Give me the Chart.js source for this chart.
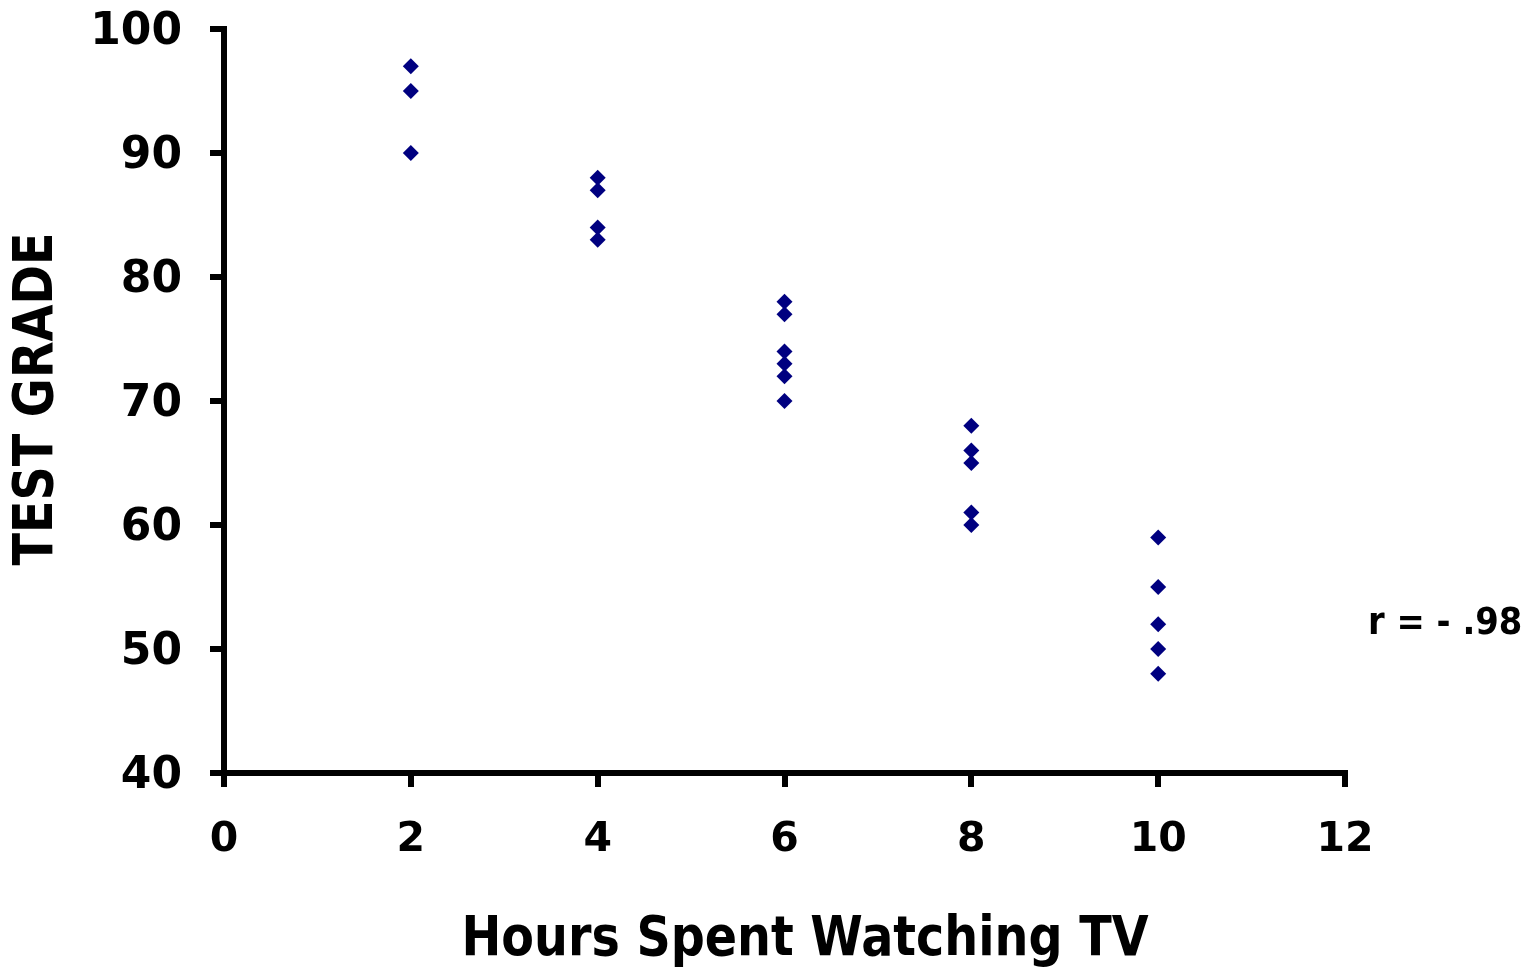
<!DOCTYPE html>
<html>
<head>
<meta charset="utf-8">
<script src="https://cdn.jsdelivr.net/npm/chart.js@4/dist/chart.umd.min.js"></script>
<style>
html,body{margin:0;padding:0;background:#fff;}
#wrap{width:1537px;height:975px;}
</style>
</head>
<body>
<div id="wrap"><canvas id="c" width="1537" height="975"></canvas></div>
<script>
const hours = [2,2,2, 4,4,4,4, 6,6,6,6,6,6, 8,8,8,8,8, 10,10,10,10,10];
const grades = [97,95,90, 88,87,84,83, 78,77,74,73,72,70, 68,66,65,61,60, 59,55,52,50,48];
const xTicks = [0,2,4,6,8,10,12];
const yTicks = [40,50,60,70,80,90,100];
const xTitle = 'Hours Spent Watching TV';
const yTitle = 'TEST GRADE';
const note = 'r = - .98';

const FONT = '"DejaVu Sans", Verdana, sans-serif';
const points = hours.map((h,i)=>({x:h,y:grades[i]}));

function drawText(ctx, text, x, y, size, sx, rot, align){
  ctx.save();
  ctx.translate(x, y);
  if (rot) ctx.rotate(rot);
  ctx.scale(sx, 1);
  ctx.font = 'bold ' + size + 'px ' + FONT;
  ctx.textAlign = align;
  ctx.textBaseline = 'middle';
  ctx.fillStyle = '#000';
  ctx.fillText(text, 0, 0);
  ctx.restore();
}

const titlePlugin = {
  id:'titles',
  afterDraw(chart){
    const ctx = chart.ctx;
    drawText(ctx, xTitle, 805, 941, 55, 0.866, 0, 'center');
    drawText(ctx, yTitle, 38, 399, 55, 0.866, -Math.PI/2, 'center');
    drawText(ctx, note, 1368, chart.scales.y.getPixelForValue(52.0), 38, 0.89, 0, 'left');
  }
};

new Chart(document.getElementById('c'), {
  type:'scatter',
  data:{datasets:[{
    data:points,
    pointStyle:'rectRot',
    pointRadius:8,
    pointHoverRadius:8,
    backgroundColor:'#000080',
    borderColor:'#000080',
    borderWidth:0
  }]},
  options:{
    responsive:false,
    animation:false,
    events:[],
    layout:{padding:{left:0,top:29,right:192,bottom:0}},
    plugins:{legend:{display:false},tooltip:{enabled:false}},
    scales:{
      x:{
        type:'linear', min:0, max:12,
        afterBuildTicks(s){ s.ticks = xTicks.map(v=>({value:v})); },
        afterFit(s){ s.height = 202; s.paddingLeft = 0; s.paddingRight = 0; },
        grid:{drawOnChartArea:false, drawTicks:true, tickLength:14, color:'#000', lineWidth:6},
        border:{display:true, color:'#000', width:6},
        ticks:{color:'#000', font:{family:FONT, size:41, weight:'bold'}, padding:29, maxRotation:0}
      },
      y:{
        type:'linear', min:40, max:100,
        afterBuildTicks(s){ s.ticks = yTicks.map(v=>({value:v})); },
        afterFit(s){ s.width = 224; s.paddingTop = 0; s.paddingBottom = 0; },
        grid:{drawOnChartArea:false, drawTicks:true, tickLength:14, color:'#000', lineWidth:6},
        border:{display:true, color:'#000', width:6},
        ticks:{color:'#000', font:{family:FONT, size:44, weight:'bold'}, padding:28, labelOffset:4}
      }
    }
  },
  plugins:[titlePlugin]
});
</script>
</body>
</html>
